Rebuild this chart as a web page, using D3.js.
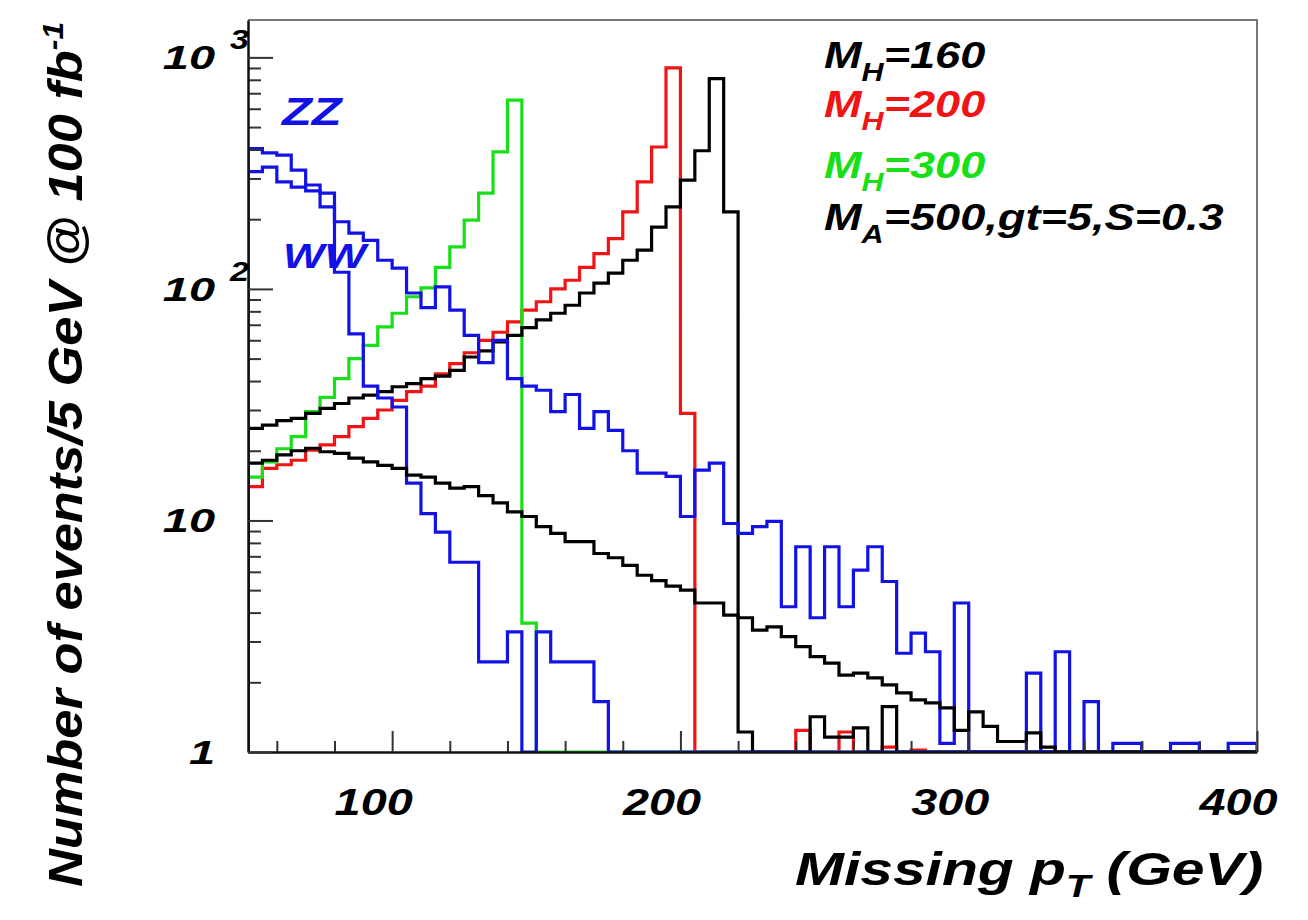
<!DOCTYPE html>
<html>
<head>
<meta charset="utf-8">
<script src="https://cdn.jsdelivr.net/npm/d3@7"></script>
<style>
  body { margin: 0; background: #fff; }
  text { font-family: "Liberation Sans", Arial, sans-serif; font-weight: bold; font-style: italic; }
</style>
</head>
<body>
<div id="chart"></div>
<script>
// histogram bins: 5 GeV wide from 50 to 400 GeV (70 bins), 0 = empty bin
const binStart = 50, binWidth = 5;

const mh200Counts = [14, 16.8, 17.4, 18.2, 20.1, 21.2, 23, 25.4, 27.6, 30,
  33, 36, 38, 43, 47.6, 53, 60, 65, 72, 81,
  88, 100, 109, 124, 142, 165, 215, 290, 410, 900,
  29, 0, 0, 0, 0, 0, 0, 0, 1.24, 0,
  0, 1.22, 0, 0, 1.05, 0, 1.02, 0, 0, 0,
  0, 0, 0, 0, 0, 0, 0, 0, 0, 0,
  0, 0, 0, 0, 0, 0, 0, 0, 0, 0];

const mh300Counts = [15.4, 17.9, 20.4, 23, 29.5, 34, 41, 50, 57, 68.5,
  78.5, 92.5, 101, 124, 152, 198, 259, 391, 653, 3.6,
  0, 0, 0, 0, 0, 0, 0, 0, 0, 0,
  0, 0, 0, 0, 0, 0, 0, 0, 0, 0,
  0, 0, 0, 0, 0, 0, 0, 0, 0, 0,
  0, 0, 0, 0, 0, 0, 0, 0, 0, 0,
  0, 0, 0, 0, 0, 0, 0, 0, 0, 0];

const mh160Counts = [25, 25.8, 27, 27.6, 29, 30.5, 32, 33.8, 34.8, 36,
  37.8, 39, 41, 42, 44.5, 50.8, 54, 59, 63, 68,
  73.5, 78.5, 85, 96, 106, 117, 133, 147, 185, 226,
  295, 395, 810, 215, 1.22, 0, 0, 0, 0, 1.42,
  1.16, 1.16, 1.27, 0, 1.57, 0, 0, 0, 0, 0,
  0, 0, 0, 0, 0, 0, 0, 0, 0, 0,
  0, 0, 0, 0, 0, 0, 0, 0, 0, 0];

const zzCounts = [404, 387, 378, 326, 281, 259, 195, 174, 162, 133,
  123, 96, 83, 102, 81, 63, 48, 60, 41, 38,
  36.5, 29.5, 35, 25, 29.5, 24.5, 20, 16, 16, 15.5,
  10.4, 16.5, 17.7, 9.7, 8.8, 9.4, 9.9, 4.24, 7.7, 3.8,
  7.7, 4.24, 6.1, 7.7, 5.45, 2.67, 3.26, 2.71, 1.09, 4.4,
  0, 0, 0, 0, 2.19, 0, 2.71, 0, 1.65, 0,
  1.09, 1.09, 0, 0, 1.09, 1.09, 0, 0, 1.09, 1.09];

const wwCounts = [321, 336, 290, 275, 265, 226, 118, 64, 38, 33.8,
  30.9, 14.5, 10.7, 8.9, 6.6, 6.6, 2.45, 2.45, 3.3, 0,
  3.3, 2.45, 2.45, 2.45, 1.65, 0, 0, 0, 0, 0,
  0, 0, 0, 0, 0, 0, 0, 0, 0, 0,
  0, 0, 0, 0, 0, 0, 0, 0, 0, 0,
  0, 0, 0, 0, 0, 0, 0, 0, 0, 0,
  0, 0, 0, 0, 0, 0, 0, 0, 0, 0];

const maCounts = [17.7, 18.2, 19.2, 20, 20.5, 19.8, 19.5, 18.6, 17.9, 17.3,
  16.8, 15.7, 15.4, 14.5, 13.8, 14, 12.8, 11.9, 10.9, 10.4,
  9.4, 8.8, 8.1, 8.1, 7.2, 6.9, 6.4, 5.8, 5.5, 5.2,
  5.0, 4.4, 4.4, 3.9, 3.8, 3.36, 3.47, 3.15, 2.85, 2.58,
  2.42, 2.15, 2.19, 2.09, 1.95, 1.8, 1.68, 1.63, 1.55, 1.24,
  1.49, 1.29, 1.11, 1.11, 1.21, 1.05, 0, 0, 0, 0,
  0, 0, 0, 0, 0, 0, 0, 0, 0, 0];

const xTicks = [100, 200, 300, 400];
const xMinorTicks = [60, 80, 120, 140, 160, 180, 220, 240, 260, 280, 320, 340, 360, 380];
const yTicks = [1, 10, 100, 1000];
const yTickExps = ["", "", "2", "3"];
const yTickBase = ["1", "10", "10", "10"];
const yMinorTicks = [2, 3, 4, 5, 6, 7, 8, 9, 20, 30, 40, 50, 60, 70, 80, 90,
  200, 300, 400, 500, 600, 700, 800, 900];

const legendMain = ["M", "M", "M", "M"];
const legendSub = ["H", "H", "H", "A"];
const legendRest = ["=160", "=200", "=300", "=500,gt=5,S=0.3"];
const legendColors = ["#000000", "#f01414", "#18e018", "#000000"];

const blue = "#1212e6", red = "#f01414", green = "#18e018";

const width = 1308, height = 920;
const stretch = 1.22; // text in the original is drawn wider than normal

let svg = d3.select("#chart").append("svg")
  .attr("width", width)
  .attr("height", height);

let x = d3.scaleLinear().domain([50, 400]).range([248, 1257]);
let y = d3.scaleLog().domain([1, 1450]).range([752, 20]);

svg.append("clipPath").attr("id", "plot-clip")
  .append("rect")
  .attr("x", 248).attr("y", 20)
  .attr("width", 1257 - 248).attr("height", 752 - 20);

// step outline like a ROOT histogram
let line = d3.line()
  .x(d => x(d[0]))
  .y(d => y(Math.max(d[1], 1)))
  .curve(d3.curveStepAfter);

function histPoints(counts) {
  let pts = [[binStart, 0]];
  counts.forEach((c, i) => pts.push([binStart + i * binWidth, c]));
  let end = binStart + counts.length * binWidth;
  pts.push([end, counts[counts.length - 1]]);
  pts.push([end, 0]);
  return pts;
}

let hists = [
  { counts: mh200Counts, color: red },
  { counts: mh300Counts, color: green },
  { counts: mh160Counts, color: "#000" },
  { counts: zzCounts, color: blue },
  { counts: wwCounts, color: blue },
  { counts: maCounts, color: "#000" }
];

let plot = svg.append("g").attr("clip-path", "url(#plot-clip)");

hists.forEach(h => {
  plot.append("path")
    .attr("d", line(histPoints(h.counts)))
    .attr("fill", "none")
    .attr("stroke", h.color)
    .attr("stroke-width", 3.2)
    .attr("stroke-linejoin", "miter");
});

// frame top / right
svg.append("path")
  .attr("d", `M${x(50)},${y(1450)}H${x(400)}V${y(1)}`)
  .attr("fill", "none")
  .attr("stroke", "#777")
  .attr("stroke-width", 2);

// x axis
let xMinor = svg.append("g")
  .attr("transform", `translate(0,${y(1)})`)
  .call(d3.axisBottom(x).tickValues(xMinorTicks).tickSizeInner(-11).tickSizeOuter(0).tickFormat(""));
xMinor.select(".domain").remove();

let xAxis = svg.append("g")
  .attr("transform", `translate(0,${y(1)})`)
  .call(d3.axisBottom(x).tickValues(xTicks).tickSizeInner(-21).tickSizeOuter(0));

xAxis.selectAll(".tick text")
  .attr("y", 63)
  .attr("dy", 0)
  .attr("x", 0)
  .attr("font-size", 36)
  .attr("fill", "#000")
  .attr("transform", "translate(-19,0) scale(1.3,1)");

// y axis
let yMinor = svg.append("g")
  .attr("transform", `translate(${x(50)},0)`)
  .call(d3.axisLeft(y).tickValues(yMinorTicks).tickSizeInner(-13).tickSizeOuter(0).tickFormat(""));
yMinor.select(".domain").remove();

let yAxis = svg.append("g")
  .attr("transform", `translate(${x(50)},0)`)
  .call(d3.axisLeft(y).tickValues(yTicks).tickSizeInner(-25).tickSizeOuter(0).tickFormat(""));

[xMinor, xAxis, yMinor, yAxis].forEach(g => {
  g.selectAll(".tick line").attr("stroke", "#333").attr("stroke-width", 2);
  g.select(".domain").attr("stroke", "#111").attr("stroke-width", 2.5);
});

yTicks.forEach((t, i) => {
  svg.append("text")
    .attr("transform", `translate(215,${y(t) + 12}) scale(1.38,1)`)
    .attr("text-anchor", "end")
    .attr("font-size", 34)
    .text(yTickBase[i]);
  if (yTickExps[i]) {
    svg.append("text")
      .attr("transform", `translate(230,${y(t) - 8}) scale(${stretch},1)`)
      .attr("font-size", 28)
      .text(yTickExps[i]);
  }
});

// axis titles
let yTitle = svg.append("text")
  .attr("transform", "translate(82,887) rotate(-90)")
  .attr("font-size", 48)
  .attr("textLength", 865)
  .attr("lengthAdjust", "spacingAndGlyphs");
yTitle.append("tspan").text("Number of events/5 GeV @ 100 fb");
yTitle.append("tspan").attr("dy", -19).attr("font-size", 29).text("-1");

let xTitle = svg.append("text")
  .attr("transform", "translate(795,885) scale(1.25,1)")
  .attr("font-size", 47);
xTitle.append("tspan").text("Missing p");
xTitle.append("tspan").attr("dy", 12).attr("font-size", 32).text("T");
xTitle.append("tspan").attr("dy", -12).text(" (GeV)");

// legend
let legendBase = [68, 117, 178, 230];
legendMain.forEach((m, i) => {
  let t = svg.append("text")
    .attr("transform", `translate(824,${legendBase[i]}) scale(${stretch},1)`)
    .attr("font-size", 37)
    .attr("fill", legendColors[i]);
  t.append("tspan").text(m);
  t.append("tspan").attr("dy", 13).attr("font-size", 25).text(legendSub[i]);
  t.append("tspan").attr("dy", -13).text(legendRest[i]);
});

// process labels
svg.append("text")
  .attr("transform", `translate(282,125) scale(1.25,1)`)
  .attr("font-size", 39)
  .attr("fill", blue)
  .text("ZZ");

svg.append("text")
  .attr("transform", `translate(283,268) scale(${stretch},1)`)
  .attr("font-size", 36)
  .attr("fill", blue)
  .text("WW");
</script>
</body>
</html>
